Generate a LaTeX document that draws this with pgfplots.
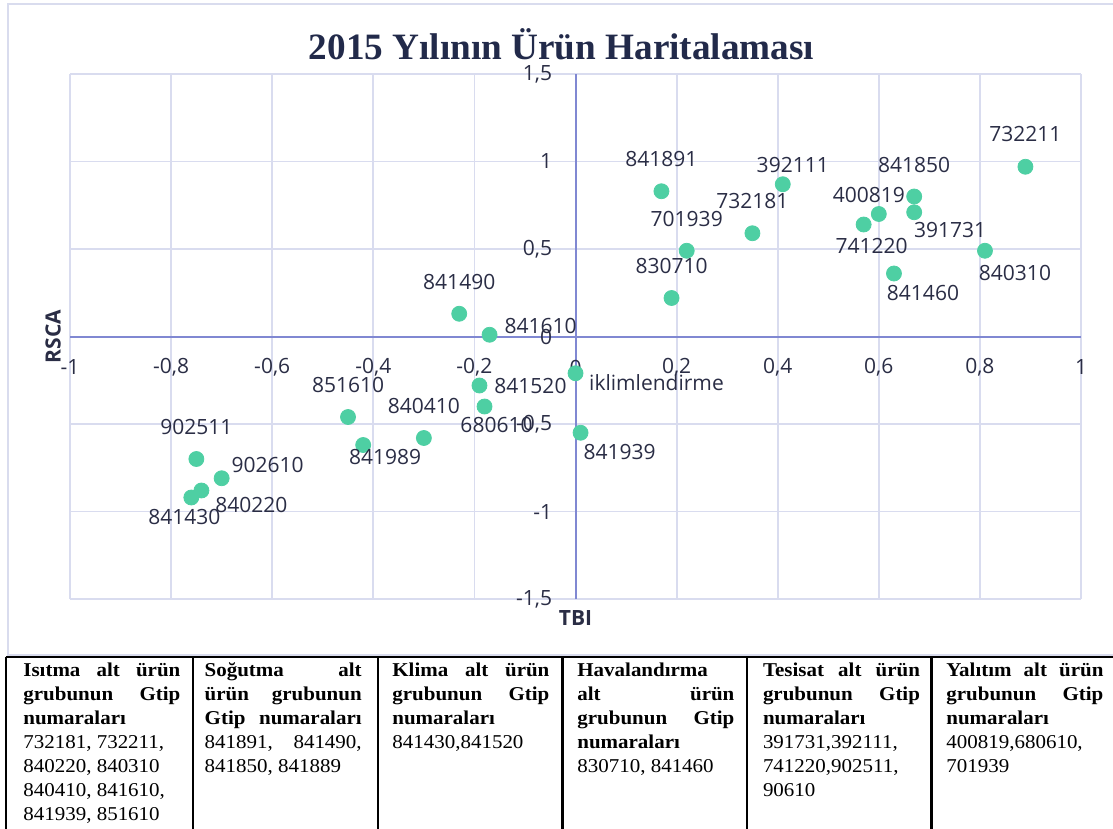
\documentclass[border=0pt]{standalone}
\usepackage{fontspec}
\usepackage{pgfplots}
\usepackage{pgfplotstable}
\pgfplotsset{compat=1.18}
\setmainfont{Open Sans}
\newfontfamily\tnr{Liberation Serif}
\newfontfamily\tnrw[FakeStretch=1.07]{Liberation Serif}
\definecolor{gridc}{HTML}{D9DCEF}
\definecolor{axisc}{HTML}{8088D2}
\definecolor{txt}{HTML}{2A2D45}
\definecolor{titlec}{HTML}{222A4A}
\definecolor{dotc}{HTML}{4ECFA3}
\definecolor{framec}{HTML}{D9DCEE}

% x y dx dy (dx,dy in pt, label centre relative to point)
\pgfplotstableread{
x y lab dx dy
0.89 0.97 732211 0 16.5
0.17 0.83 841891 0 16
0.41 0.87 392111 5 9.5
0.35 0.59 732181 0 16
0.22 0.49 701939 0 16
0.19 0.22 830710 0 16
0.60 0.70 400819 -5 9.5
0.57 0.64 741220 4 -10.5
0.67 0.80 841850 0 16
0.67 0.71 391731 18 -9
0.81 0.49 840310 15 -11
0.63 0.36 841460 14.5 -9.5
-0.23 0.13 841490 0 16
-0.17 0.01 841610 25.5 4.5
-0.19 -0.28 841520 25.5 0
-0.18 -0.40 680610 6 -9
-0.45 -0.46 851610 0 16
-0.42 -0.62 841989 11 -6
-0.30 -0.58 840410 0 16
-0.75 -0.70 902511 0 16
-0.70 -0.81 902610 23 6.5
-0.74 -0.88 840220 25 -7
-0.76 -0.92 841430 -3.5 -9.5
0.00 -0.21 iklimlendirme 40.5 -4.5
0.01 -0.55 841939 19.5 -9.5
}\pts

% #1 x px, #2 line index (0-based), #3 text
\newcommand{\tb}[3]{\node[anchor=base west, inner sep=0pt, font=\tnrw\fontsize{9.8}{12}\selectfont, text=black] at ({#1*0.5pt},{-(676.7+24*#2)*0.5pt}) {#3};}
\newcommand{\jl}[1]{\hbox to 78.5pt{#1}}

\begin{document}
\begin{tikzpicture}
\useasboundingbox (0,0) rectangle (556.5pt,-414.5pt);
\clip (0,0) rectangle (556.5pt,-414.5pt);
% outer frame
\draw[framec, line width=0.8pt] (4pt,-2pt) rectangle (562pt,-327.5pt);
\node[anchor=base, inner sep=0pt, font=\tnr\bfseries\fontsize{18.6}{20}\selectfont, text=titlec] at (280.75pt,-29.7pt) {2015 Yılının Ürün Haritalaması};
\begin{axis}[
  at={(35pt,-299.5pt)}, anchor=south west,
  scale only axis, width=505.5pt, height=262.5pt,
  xmin=-1, xmax=1, ymin=-1.5, ymax=1.5,
  axis lines=middle,
  axis line style={-, color=axisc, line width=1pt},
  hide obscured x ticks=false, hide obscured y ticks=false,
  xtick={-1,-0.8,-0.6,-0.4,-0.2,0,0.2,0.4,0.6,0.8,1},
  xticklabels={-1,{-0,8},{-0,6},{-0,4},{-0,2},0,{0,2},{0,4},{0,6},{0,8},1},
  ytick={-1.5,-1,-0.5,0,0.5,1,1.5},
  yticklabels={{-1,5},-1,{-0,5},0,{0,5},1,{1,5}},
  major tick length=0pt,
  grid=major,
  grid style={color=gridc, line width=0.9pt},
  tick label style={font=\fontsize{10.5}{12}\selectfont, text=txt, inner sep=0pt},
  xticklabel style={anchor=center, yshift=-15.5pt},
  yticklabel style={anchor=east, xshift=-11.5pt},
  xlabel={TBI}, ylabel={RSCA},
  every axis x label/.style={at={(axis description cs:0.5,0)}, anchor=center, yshift=-9.5pt, font=\bfseries\fontsize{10.5}{12}\selectfont, text=txt},
  every axis y label/.style={at={(axis description cs:-0.0168,0.5)}, rotate=90, anchor=center, font=\bfseries\fontsize{10.5}{12}\selectfont, text=txt},
  clip=false,
]
\addplot[only marks, mark=*, mark size=3.75pt, mark options={draw=dotc, fill=dotc},
  nodes near coords, point meta=explicit symbolic,
  visualization depends on={\thisrow{dx} \as \ddx},
  visualization depends on={\thisrow{dy} \as \ddy},
  every node near coord/.append style={anchor=center, inner sep=0pt, xshift=\ddx pt, yshift=\ddy pt, font=\fontsize{10.5}{12}\selectfont, text=txt},
] table[x=x, y=y, meta=lab] {\pts};
\end{axis}
% table
\draw[black, line width=1pt] (2.85pt,-328.5pt) -- (560pt,-328.5pt);
\foreach \xx in {5.7,193,378,562.6,746.8,931.3}{
  \draw[black, line width=1.2pt] ({\xx*0.5pt},-328.5pt) -- ({\xx*0.5pt},-420pt);
}
% col 1
\tb{23}{0}{\bfseries\jl{Isıtma\hfill alt\hfill ürün}}
\tb{23}{1}{\bfseries\jl{grubunun\hfill Gtip}}
\tb{23}{2}{\bfseries numaraları}
\tb{23}{3}{732181, 732211,}
\tb{23}{4}{840220, 840310}
\tb{23}{5}{840410, 841610,}
\tb{23}{6}{841939, 851610}
% col 2
\tb{204.3}{0}{\bfseries\jl{Soğutma\hfill alt}}
\tb{204.3}{1}{\bfseries\jl{ürün\hfill grubunun}}
\tb{204.3}{2}{\bfseries\jl{Gtip\hfill numaraları}}
\tb{204.3}{3}{\jl{841891,\hfill 841490,}}
\tb{204.3}{4}{841850, 841889}
% col 3
\tb{392}{0}{\bfseries\jl{Klima\hfill alt\hfill ürün}}
\tb{392}{1}{\bfseries\jl{grubunun\hfill Gtip}}
\tb{392}{2}{\bfseries numaraları}
\tb{392}{3}{841430,841520}
% col 4
\tb{577}{0}{\bfseries Havalandırma}
\tb{577}{1}{\bfseries\jl{alt\hfill ürün}}
\tb{577}{2}{\bfseries\jl{grubunun\hfill Gtip}}
\tb{577}{3}{\bfseries numaraları}
\tb{577}{4}{830710, 841460}
% col 5
\tb{762.6}{0}{\bfseries\jl{Tesisat\hfill alt\hfill ürün}}
\tb{762.6}{1}{\bfseries\jl{grubunun\hfill Gtip}}
\tb{762.6}{2}{\bfseries numaraları}
\tb{762.6}{3}{391731,392111,}
\tb{762.6}{4}{741220,902511,}
\tb{762.6}{5}{90610}
% col 6
\tb{946}{0}{\bfseries\jl{Yalıtım\hfill alt\hfill ürün}}
\tb{946}{1}{\bfseries\jl{grubunun\hfill Gtip}}
\tb{946}{2}{\bfseries numaraları}
\tb{946}{3}{400819,680610,}
\tb{946}{4}{701939}
\end{tikzpicture}
\end{document}
